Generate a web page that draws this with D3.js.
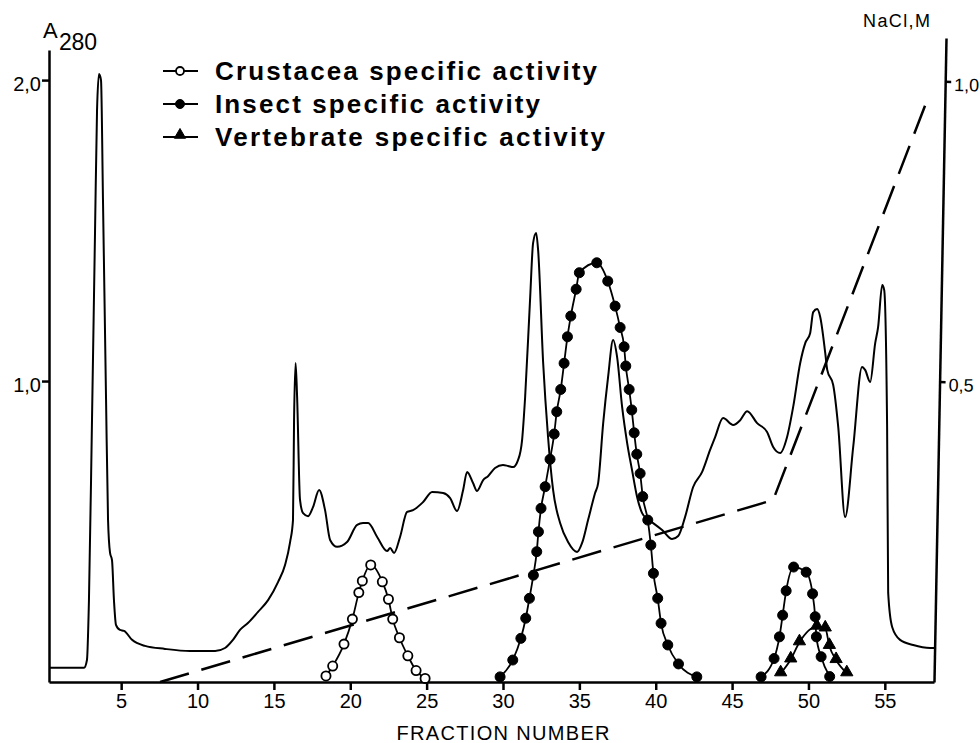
<!DOCTYPE html>
<meta charset="utf-8">
<script src="https://cdnjs.cloudflare.com/ajax/libs/d3/7.8.5/d3.min.js"></script>
<style>
body { margin: 0; background: #fff; }
svg { display: block; background: #fff; }
text { font-family: "Liberation Sans", Arial, sans-serif; fill: #000; }
.axis .domain, .axis line { stroke: #000; stroke-width: 2.5px; }
.axis text { font-family: "Liberation Sans", Arial, sans-serif; }
path.a280 { fill: none; stroke: #000; stroke-width: 2px; }
path.activity { fill: none; stroke: #000; stroke-width: 1.8px; }
path.nacl { fill: none; stroke: #000; stroke-width: 2.5px; stroke-dasharray: 30,13; }
circle.open { fill: #fff; stroke: #000; stroke-width: 1.8px; }
circle.filled, path.tri { fill: #000; stroke: #000; stroke-width: 1px; }
.legend text { font-size: 26px; font-weight: bold; }
.legend line { stroke: #000; stroke-width: 2px; }
</style>
<body>
<div id="chart"></div>
<script>
// fraction number, A280
var a280Trace = [
  [0.28,0.047],[2.57,0.047],[2.76,0.073],[2.89,0.27],[3.09,0.87],[3.29,1.50],[3.42,1.90],[3.55,2.02],[3.68,2.00],[3.81,1.60],
  [4.01,0.94],[4.14,0.54],[4.27,0.43],[4.40,0.405],[4.53,0.27],[4.66,0.19],[4.92,0.173],[5.19,0.17],[5.71,0.14],[6.56,0.12],
  [7.87,0.11],[9.51,0.103],[11.15,0.103],[11.80,0.113],[12.32,0.14],[12.78,0.173],[13.30,0.196],[13.96,0.233],[14.62,0.272],[15.27,0.332],
  [15.73,0.389],[16.06,0.465],[16.25,0.538],[16.32,0.87],[16.42,1.06],[16.52,0.947],[16.71,0.605],[16.91,0.561],[17.24,0.551],[17.56,0.581],
  [17.96,0.638],[18.35,0.571],[18.68,0.472],[19.14,0.449],[19.79,0.465],[20.45,0.522],[20.84,0.528],[21.17,0.528],[21.76,0.482],[22.41,0.435],
  [22.61,0.445],[22.87,0.429],[23.26,0.482],[23.72,0.565],[24.11,0.571],[24.77,0.598],[25.36,0.631],[26.08,0.628],[26.54,0.611],[26.99,0.568],
  [27.39,0.638],[27.65,0.698],[28.04,0.661],[28.30,0.635],[28.70,0.671],[29.02,0.684],[29.48,0.711],[30.00,0.721],[30.33,0.718],[30.66,0.714],
  [30.99,0.738],[31.25,0.804],[31.45,0.947],[31.78,1.279],[31.97,1.458],[32.17,1.492],[32.30,1.435],[32.63,1.06],[32.95,0.814],[33.28,0.638],
  [33.74,0.528],[34.26,0.465],[34.85,0.432],[35.18,0.462],[35.57,0.538],[36.03,0.628],[36.23,0.661],[36.56,0.86],[36.88,1.013],[37.21,1.136],
  [37.47,1.08],[37.80,0.914],[38.13,0.794],[38.45,0.704],[38.78,0.615],[39.11,0.561],[39.44,0.542],[39.83,0.528],[40.42,0.505],[41.07,0.475],
  [41.47,0.485],[41.92,0.548],[42.45,0.648],[43.04,0.698],[43.56,0.771],[43.89,0.814],[44.41,0.877],[45.07,0.854],[45.53,0.87],[45.99,0.90],
  [46.64,0.86],[47.29,0.831],[47.69,0.781],[48.15,0.761],[48.60,0.814],[49.00,0.914],[49.46,1.06],[49.79,1.126],[50.11,1.159],[50.31,1.229],
  [50.57,1.239],[50.77,1.213],[51.10,1.093],[51.23,1.037],[51.62,0.987],[51.95,0.847],[52.40,0.548],[52.93,0.781],[53.51,1.047],[53.71,1.037],
  [54.04,0.997],[54.37,1.126],[54.56,1.179],[54.83,1.319],[54.96,1.302],[55.15,0.847],[55.22,0.296],[55.48,0.183],[56.00,0.14],[56.86,0.123],
  [57.97,0.113],[58.22,0.113]
];

// activities, plotted in the A280 units of the left axis
var crustacea = [
  [18.41,0.02],[18.85,0.053],[19.59,0.126],[20.14,0.209],[20.56,0.297],[20.79,0.336],[21.34,0.389],
  [22.10,0.333],[22.50,0.275],[22.78,0.209],[23.22,0.147],[23.77,0.087],[24.31,0.038],[24.90,0.012]
];
var insectPeak1 = [
  [29.81,0.017],[30.64,0.073],[31.17,0.145],[31.49,0.212],[31.73,0.278],[31.99,0.355],[32.21,0.433],[32.32,0.499],
  [32.49,0.577],[32.76,0.649],[33.08,0.74],[33.35,0.824],[33.52,0.898],[33.78,0.972],[34.00,1.059],[34.22,1.147],
  [34.44,1.216],[34.79,1.305],[35.00,1.36],[36.14,1.393],[36.86,1.332],[37.34,1.249],[37.67,1.178],[37.93,1.114],
  [38.04,1.05],[38.26,0.972],[38.43,0.904],[38.59,0.828],[38.76,0.757],[38.98,0.693],[39.15,0.616],[39.48,0.538],
  [39.68,0.455],[39.85,0.361],[40.13,0.278],[40.35,0.195],[40.79,0.123],[41.49,0.06],[42.69,0.017]
];
var insectPeak2 = [
  [46.90,0.017],[47.75,0.078],[48.10,0.15],[48.31,0.222],[48.54,0.303],[49.03,0.382],
  [49.85,0.365],[50.27,0.293],[50.44,0.217],[50.52,0.15],[50.83,0.084],[51.39,0.018]
];
var vertebrate = [
  [48.18,0.029],[48.84,0.075],[49.41,0.132],[50.55,0.184],[51.10,0.178],[51.37,0.12],[51.81,0.073],[52.51,0.029]
];

// NaCl gradient, molar
var naclGradient = [[7.55,0],[47.69,0.303],[57.9,0.977]];

var xTicks = [5,10,15,20,25,30,35,40,45,50,55];
var a280Ticks = [1.0, 2.0];
var naclTicks = [0.5, 1.0];
var legendLabels = ["Crustacea specific activity", "Insect specific activity", "Vertebrate specific activity"];

var width = 980, height = 743;
var svg = d3.select("#chart").append("svg")
  .attr("width", width)
  .attr("height", height);

var x = d3.scaleLinear().domain([0.275, 58.22]).range([49, 934]);
var y = d3.scaleLinear().domain([0, 2.1]).range([682, 50]);
var yNacl = d3.scaleLinear().domain([0, 1.072]).range([682, 38]);

var comma = function(d) { return d.toFixed(1).replace(".", ","); };

// axes
var xAxis = svg.append("g")
  .attr("class", "axis")
  .attr("transform", "translate(0,682)")
  .call(d3.axisBottom(x).tickValues(xTicks).tickSize(8).tickSizeOuter(0).tickPadding(4));
xAxis.selectAll("text").attr("font-size", 20);

var leftAxis = svg.append("g")
  .attr("class", "axis")
  .attr("transform", "translate(49,0)")
  .call(d3.axisLeft(y).tickValues(a280Ticks).tickSize(7).tickSizeOuter(0).tickPadding(1).tickFormat(comma));
leftAxis.selectAll("text").attr("font-size", 20).attr("dy", "0.5em");

// the right axis is drawn slightly tilted in the original
var rightAxis = svg.append("g")
  .attr("class", "axis")
  .attr("transform", "translate(940,0) rotate(1.07,0,360)")
  .call(d3.axisRight(yNacl).tickValues(naclTicks).tickSize(6).tickSizeOuter(0).tickPadding(3).tickFormat(comma));
rightAxis.selectAll("text").attr("font-size", 18).attr("dy", "0.5em");

svg.selectAll(".axis .domain").attr("stroke-width", 2.8);

// axis titles
svg.append("text")
  .attr("x", 503).attr("y", 740)
  .attr("text-anchor", "middle")
  .attr("font-size", 20)
  .attr("textLength", 213)
  .text("FRACTION  NUMBER");

svg.append("text")
  .attr("x", 43).attr("y", 38)
  .attr("font-size", 22)
  .text("A");
svg.append("text")
  .attr("x", 59).attr("y", 50)
  .attr("font-size", 23)
  .attr("textLength", 38)
  .text("280");

svg.append("text")
  .attr("x", 863).attr("y", 27)
  .attr("font-size", 18)
  .attr("textLength", 67)
  .text("NaCl,M");

// lines
var line = d3.line()
  .x(function(d) { return x(d[0]); })
  .y(function(d) { return y(d[1]); })
  .curve(d3.curveMonotoneX);

var naclLine = d3.line()
  .x(function(d) { return x(d[0]); })
  .y(function(d) { return yNacl(d[1]); });

svg.append("path").datum(naclGradient).attr("class", "nacl").attr("d", naclLine);
svg.append("path").datum(a280Trace).attr("class", "a280").attr("d", line);

[crustacea, insectPeak1, insectPeak2, vertebrate].forEach(function(s) {
  svg.append("path").datum(s).attr("class", "activity").attr("d", line);
});

// markers
var tri = d3.symbol().type(d3.symbolTriangle).size(65);

svg.append("g").selectAll("circle")
  .data(crustacea)
  .enter().append("circle")
  .attr("class", "open")
  .attr("cx", function(d) { return x(d[0]); })
  .attr("cy", function(d) { return y(d[1]); })
  .attr("r", 4.6);

svg.append("g").selectAll("circle")
  .data(insectPeak1.concat(insectPeak2))
  .enter().append("circle")
  .attr("class", "filled")
  .attr("cx", function(d) { return x(d[0]); })
  .attr("cy", function(d) { return y(d[1]); })
  .attr("r", 5);

svg.append("g").selectAll("path")
  .data(vertebrate)
  .enter().append("path")
  .attr("class", "tri")
  .attr("d", tri)
  .attr("transform", function(d) { return "translate(" + x(d[0]) + "," + (y(d[1]) - 1) + ")"; });

// legend
var legendRows = [71, 104, 137];
var legendWidths = [382, 325, 390];
var legend = svg.append("g").attr("class", "legend");
legendLabels.forEach(function(label, i) {
  var cy = legendRows[i];
  legend.append("line").attr("x1", 163).attr("x2", 198).attr("y1", cy).attr("y2", cy);
  if (i === 0) {
    legend.append("circle").attr("class", "open").attr("cx", 180).attr("cy", cy).attr("r", 4);
  } else if (i === 1) {
    legend.append("circle").attr("class", "filled").attr("cx", 180).attr("cy", cy).attr("r", 4.5);
  } else {
    legend.append("path").attr("class", "tri").attr("d", d3.symbol().type(d3.symbolTriangle).size(55))
      .attr("transform", "translate(180," + (cy - 2) + ")");
  }
  legend.append("text")
    .attr("x", 215).attr("y", cy + 9)
    .attr("textLength", legendWidths[i])
    .text(label);
});
</script>
</body>
